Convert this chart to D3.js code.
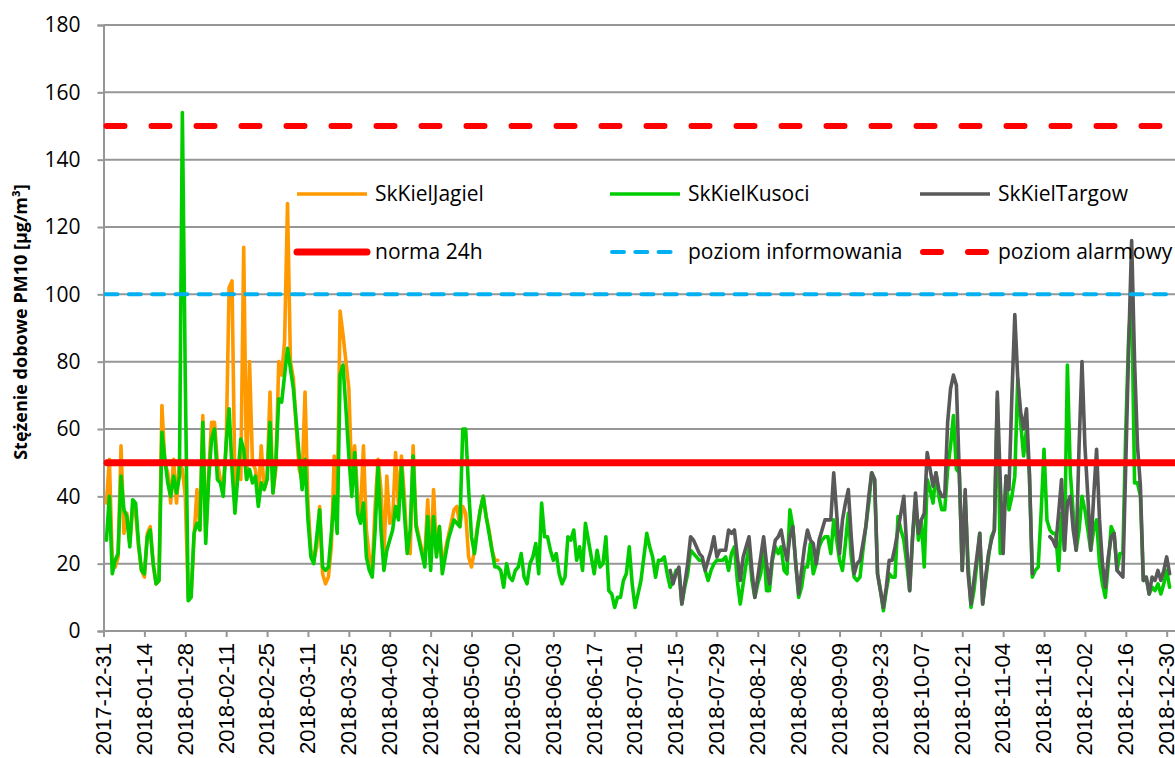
<!DOCTYPE html>
<html>
<head>
<meta charset="utf-8">
<script src="https://cdn.jsdelivr.net/npm/d3@7"></script>
<style>
	body { margin: 0; background: #fff; }
	svg { display: block; }
</style>
</head>
<body>
<svg id="chart" width="1175" height="758"></svg>
<script>
// --- data (daily PM10 means) ---
const yTicks = [0, 20, 40, 60, 80, 100, 120, 140, 160, 180]
const xTickStart = '2017-12-31'
const xTickEnd = '2018-12-30'
const xTickStepDays = 14

const seriesNames = ['SkKielJagiel', 'SkKielKusoci', 'SkKielTargow']
const seriesStarts = ['2018-01-01', '2018-01-01', '2018-07-13']

const jagiel = [
	38, 51, 21, 19, 22, 55, 29, 35, 26, 37,
	35, 25, 18, 16, 29, 31, 20, 14, 15, 67,
	50, 47, 38, 51, 38, 50, 48, 40, 10, 11,
	28, 42, 30, 64, 28, 47, 62, 62, 50, 45,
	43, 55, 102, 104, 42, 50, 45, 114, 45, 80,
	50, 48, 40, 55, 42, 45, 71, 41, 48, 80,
	76, 86, 127, 80, 75, 60, 48, 45, 71, 38,
	24, 21, 25, 37, 17, 14, 16, 25, 52, 35,
	95, 88, 80, 72, 45, 55, 40, 35, 55, 30,
	22, 18, 37, 51, 42, 22, 46, 32, 33, 53,
	37, 52, 40, 24, 23, 55, 32, 28, 24, 22,
	39, 20, 42, 23, 31, 18, 24, 28, 32, 36,
	37, 31, 37, 35, 22, 19, 24, 31, 36, 40,
	34, 30, 24, 21, 21
]

const kusoci = [
	27, 40, 17, 21, 23, 46, 36, 34, 25, 39,
	38, 26, 18, 17, 28, 30, 20, 14, 15, 59,
	51, 44, 40, 46, 41, 46, 154, 75, 9, 10,
	29, 32, 30, 62, 26, 45, 57, 60, 45, 44,
	40, 56, 66, 48, 35, 46, 57, 54, 45, 48,
	44, 46, 37, 44, 42, 45, 62, 41, 50, 69,
	68, 76, 84, 78, 72, 62, 52, 42, 51, 33,
	22, 20, 28, 36, 19, 18, 19, 29, 40, 29,
	76, 79, 66, 52, 40, 53, 35, 32, 38, 22,
	18, 16, 30, 49, 30, 18, 24, 27, 30, 37,
	33, 49, 35, 23, 30, 52, 31, 27, 23, 19,
	34, 18, 34, 22, 31, 17, 22, 27, 30, 33,
	32, 31, 60, 60, 42, 28, 23, 30, 36, 40,
	34, 29, 24, 19, 19, 18, 13, 20, 16, 15,
	18, 19, 23, 16, 14, 20, 22, 26, 17, 38,
	28, 28, 24, 21, 23, 17, 14, 16, 28, 27,
	30, 21, 25, 18, 32, 27, 22, 17, 24, 19,
	20, 28, 12, 11, 7, 10, 10, 15, 17, 25,
	14, 7, 11, 15, 22, 29, 25, 22, 16, 21,
	21, 22, 17, 13, 15, 18, 18, 8, 13, 17,
	24, 23, 22, 21, 21, 18, 15, 18, 20, 21,
	21, 21, 22, 18, 23, 25, 15, 8, 14, 20,
	25, 15, 10, 14, 17, 25, 12, 12, 21, 25,
	23, 25, 18, 17, 36, 31, 20, 10, 13, 19,
	19, 26, 17, 20, 25, 27, 28, 28, 23, 33,
	27, 21, 18, 26, 35, 22, 16, 15, 16, 24,
	31, 38, 47, 45, 17, 12, 6, 12, 17, 16,
	16, 34, 30, 27, 20, 12, 28, 39, 27, 33,
	19, 45, 42, 38, 47, 40, 36, 36, 48, 55,
	64, 48, 47, 18, 40, 20, 7, 12, 20, 29,
	8, 15, 22, 28, 30, 69, 23, 30, 46, 36,
	40, 46, 75, 62, 52, 60, 46, 16, 18, 19,
	35, 54, 33, 30, 29, 29, 18, 35, 24, 79,
	47, 35, 24, 30, 40, 36, 30, 24, 30, 33,
	20, 14, 10, 20, 31, 29, 18, 23, 23, 60,
	88, 100, 44, 44, 40, 15, 16, 11, 13, 12,
	14, 11, 14, 18, 13
]

const targow = [
	18, 14, 17, 19, 8, 14, 20,
	28, 27, 25, 23, 22, 18, 21, 24, 28, 22,
	24, 24, 24, 30, 29, 30, 22, 15, 22, 25,
	28, 18, 10, 16, 22, 28, 20, 14, 22, 27,
	28, 30, 25, 21, 28, 31, 20, 11, 18, 25,
	30, 27, 26, 20, 27, 30, 33, 33, 33, 47,
	35, 23, 33, 38, 42, 28, 17, 20, 21, 26,
	31, 40, 47, 45, 17, 12, 7, 13, 21, 21,
	25, 30, 35, 40, 25, 12, 28, 41, 29, 33,
	35, 53, 48, 43, 47, 42, 40, 40, 62, 72,
	76, 73, 47, 18, 42, 17, 8, 15, 22, 29,
	8, 16, 23, 27, 30, 71, 45, 23, 46, 42,
	70, 94, 75, 65, 60, 66, 47, 17,
	null, null, null, null, null,
	28, 27, 25, 35, 45, 24, 38,
	40, 30, 24, 55, 80, 55, 40, 24, 40, 54,
	33, 20, 13, 22, 28, 29, 18, 17, 16, 50,
	85, 116, 80, 55, 43, 15, 16, 11, 16, 15,
	18, 15, 18, 22, 17
]

const limitNames = ['norma 24h', 'poziom informowania', 'poziom alarmowy']
const limitValues = [50, 100, 150]

const yTitle = 'Stężenie dobowe PM10 [µg/m³]'

// --- layout ---
const plotLeft = 103.5
const plotRight = 1175
const plotTop = 25
const plotBottom = 631

const seriesColors = ['#ff9900', '#00cc00', '#595959']
const limitColors = ['#ff0000', '#00b0f0', '#ff0000']
const limitWidths = [7, 4, 6]
const limitDash = [null, '12 11.3', '18 27']
const gridColor = '#969696'
const font = "'Open Sans', 'DejaVu Sans', sans-serif"

const parse = d3.utcParse('%Y-%m-%d')
const fmt = d3.utcFormat('%Y-%m-%d')

const toPoints = (values, start) => {
	const t0 = parse(start)
	return values.map((v, i) => ({ date: d3.utcDay.offset(t0, i), v }))
}

const seriesData = [jagiel, kusoci, targow].map((vals, i) => toPoints(vals, seriesStarts[i]))

const xTicks = d3.utcDay.range(parse(xTickStart), d3.utcDay.offset(parse(xTickEnd), 1), 1)
	.filter((d, i) => i % xTickStepDays === 0)

const x = d3.scaleUtc()
	.domain([parse(xTickStart), parse(xTickEnd)])
	.range([plotLeft, 1166.7])

const y = d3.scaleLinear()
	.domain([0, 180])
	.range([plotBottom, plotTop])

const svg = d3.select('#chart')

// gridlines
svg.append('g')
	.attr('class', 'grid')
	.selectAll('line')
	.data(yTicks.filter(d => d > 0))
	.enter()
	.append('line')
	.attr('x1', plotLeft)
	.attr('x2', plotRight)
	.attr('y1', d => y(d))
	.attr('y2', d => y(d))
	.attr('stroke', gridColor)
	.attr('stroke-width', 2)

// y axis
const yAxis = svg.append('g')
	.attr('transform', `translate(${plotLeft},0)`)
	.call(d3.axisLeft(y).tickValues(yTicks).tickSize(6).tickPadding(17))

yAxis.select('.domain').attr('stroke', gridColor).attr('stroke-width', 2)
yAxis.selectAll('.tick line').attr('stroke', gridColor).attr('stroke-width', 2)
yAxis.selectAll('.tick text')
	.attr('font-family', font)
	.attr('font-size', 21)
	.attr('fill', '#000')

// x axis
const xAxis = svg.append('g')
	.attr('transform', `translate(0,${plotBottom})`)
	.call(d3.axisBottom(x).tickValues(xTicks).tickFormat(fmt).tickSize(6))

xAxis.select('.domain').attr('d', `M${plotLeft},0H${plotRight}`).attr('stroke', gridColor).attr('stroke-width', 2)
xAxis.selectAll('.tick line').attr('stroke', gridColor).attr('stroke-width', 2)
xAxis.selectAll('.tick text')
	.attr('font-family', "'Liberation Sans', Arial, sans-serif")
	.attr('font-size', 22)
	.attr('fill', '#000')
	.attr('text-anchor', 'end')
	.attr('transform', 'rotate(-90)')
	.attr('x', -12)
	.attr('y', 0)
	.attr('dy', '0.31em')

// y title
svg.append('text')
	.attr('transform', 'translate(27,322) rotate(-90)')
	.attr('text-anchor', 'middle')
	.attr('font-family', font)
	.attr('font-weight', 'bold')
	.attr('font-size', 18)
	.attr('fill', '#000')
	.text(yTitle)

// series
const line = d3.line()
	.defined(d => d.v !== null)
	.x(d => x(d.date))
	.y(d => y(d.v))

svg.append('g')
	.selectAll('path')
	.data(seriesData)
	.enter()
	.append('path')
	.attr('d', line)
	.attr('fill', 'none')
	.attr('stroke', (d, i) => seriesColors[i])
	.attr('stroke-width', 3.6)
	.attr('stroke-linejoin', 'round')
	.attr('stroke-linecap', 'round')

// limit lines
svg.append('g')
	.selectAll('line')
	.data(limitValues)
	.enter()
	.append('line')
	.attr('x1', (d, i) => plotLeft + limitWidths[i] / 2)
	.attr('x2', plotRight + 10)
	.attr('y1', d => y(d))
	.attr('y2', d => y(d))
	.attr('stroke', (d, i) => limitColors[i])
	.attr('stroke-width', (d, i) => limitWidths[i])
	.attr('stroke-linecap', 'round')
	.attr('stroke-dasharray', (d, i) => limitDash[i])

// legend
const legendX = [297, 610, 920]
const legendY = [194, 252]
const legendItems = seriesNames.map((n, i) => ({
	name: n, col: i, row: 0, color: seriesColors[i], w: 3.6, dash: null
})).concat(limitNames.map((n, i) => ({
	name: n, col: i, row: 1, color: limitColors[i], w: limitWidths[i], dash: limitDash[i]
})))

const legend = svg.append('g')
	.selectAll('g')
	.data(legendItems)
	.enter()
	.append('g')
	.attr('transform', d => `translate(${legendX[d.col]},${legendY[d.row]})`)

legend.append('line')
	.attr('x1', d => d.dash ? d.w / 2 : 0)
	.attr('x2', 70)
	.attr('stroke', d => d.color)
	.attr('stroke-width', d => d.w)
	.attr('stroke-linecap', d => d.dash || d.row === 1 ? 'round' : 'butt')
	.attr('stroke-dasharray', d => d.dash)

legend.append('text')
	.attr('x', 78)
	.attr('dy', '0.35em')
	.attr('font-family', font)
	.attr('font-size', 21)
	.attr('fill', '#000')
	.text(d => d.name)
</script>
</body>
</html>
